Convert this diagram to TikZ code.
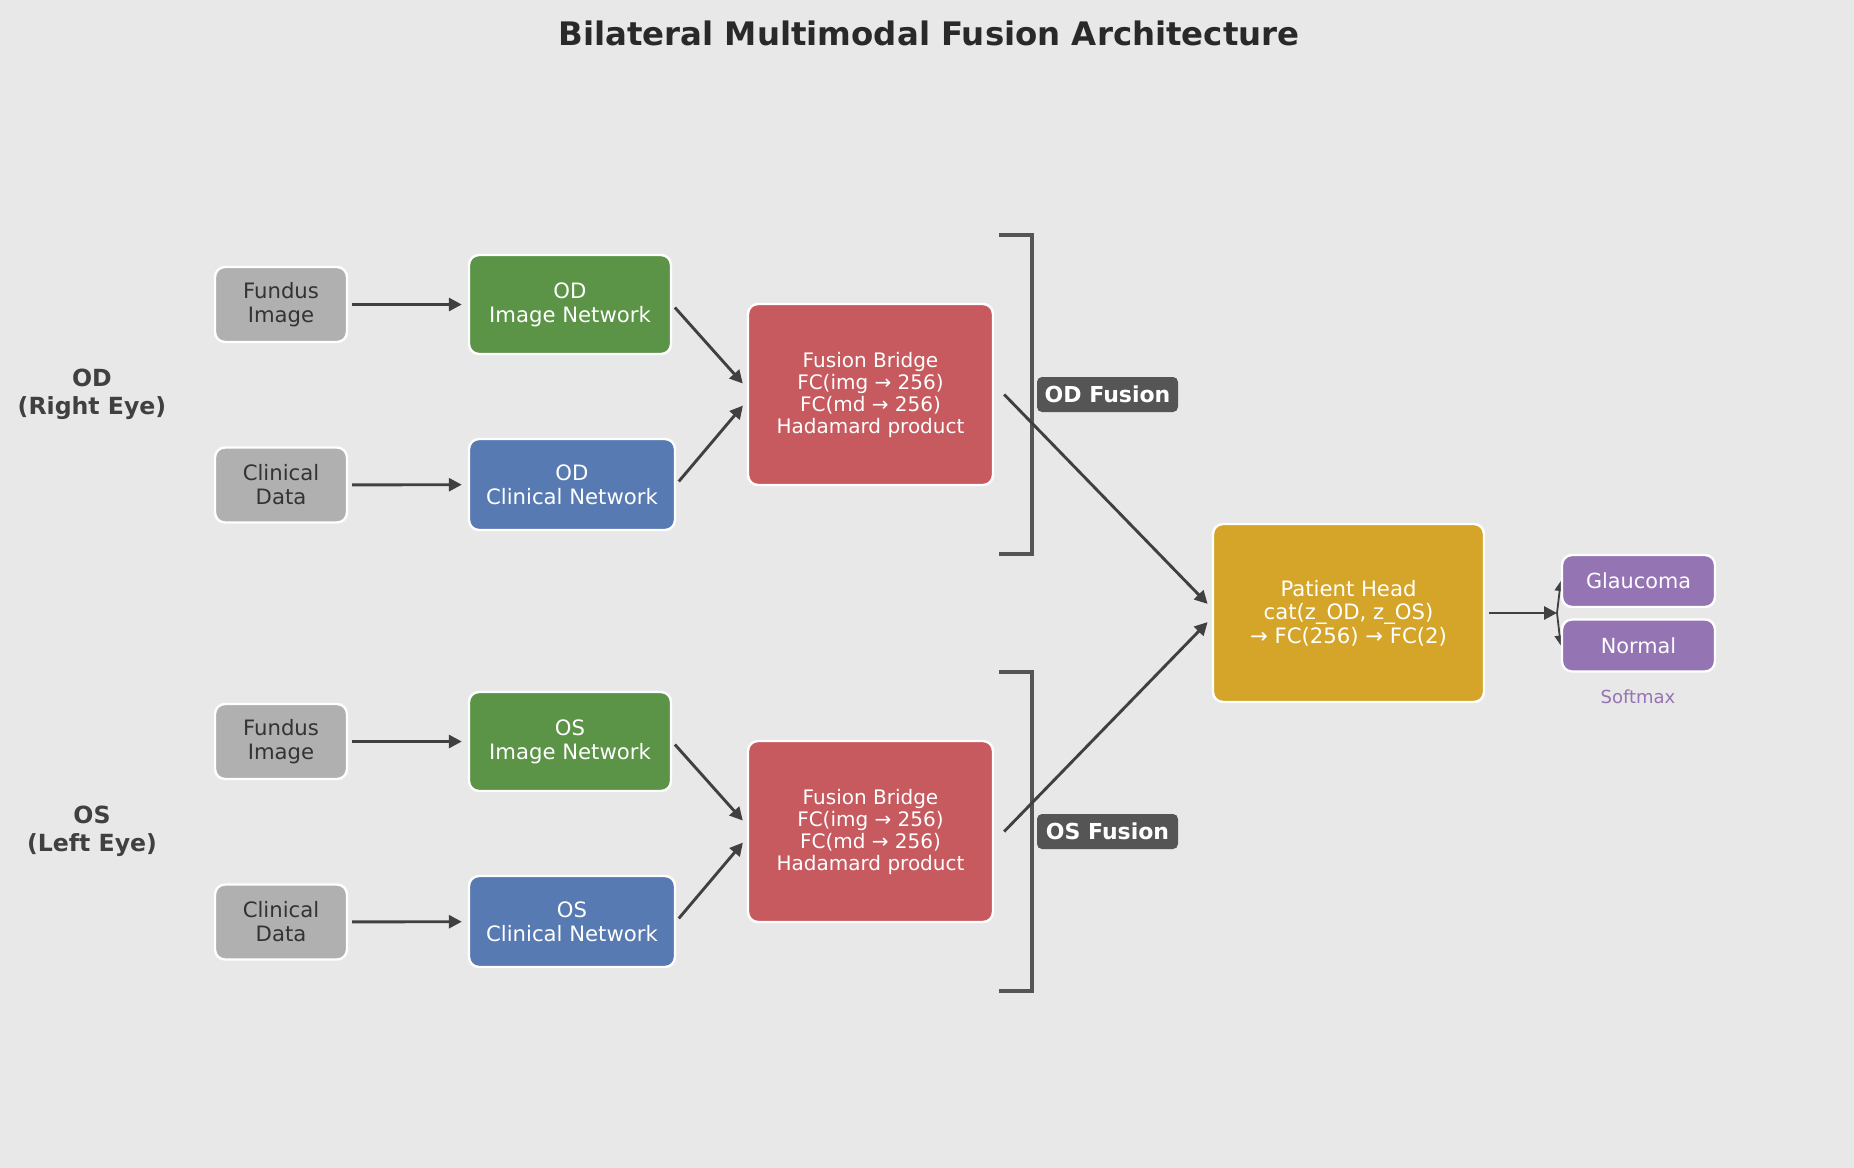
\documentclass[tikz,border=0pt]{standalone}
\usepackage{fontspec}
\setmainfont{DejaVu Sans}
\usetikzlibrary{arrows.meta}
\definecolor{bgcol}{HTML}{E8E8E8}
\definecolor{inputgray}{HTML}{B0B0B0}
\definecolor{inputtext}{HTML}{333333}
\definecolor{imggreen}{HTML}{5B9447}
\definecolor{clinblue}{HTML}{587AB2}
\definecolor{bridgered}{HTML}{C65A5F}
\definecolor{headgold}{HTML}{D4A528}
\definecolor{outpurple}{HTML}{9474B2}
\definecolor{tagdark}{HTML}{555555}
\definecolor{arrowdark}{HTML}{404040}
\pgfdeclarelayer{background}
\pgfsetlayers{background,main}
\tikzstyle{box}=[rectangle,rounded corners=5pt,draw=white,line width=1.2pt,align=center,inner sep=0pt]
\tikzstyle{inputbox}=[box,fill=inputgray,text=inputtext,minimum width=66pt,minimum height=37.5pt,font=\fontsize{10.6}{12}\selectfont]
\tikzstyle{imgnet}=[box,fill=imggreen,text=white,minimum width=101pt,minimum height=49.5pt,font=\fontsize{10.6}{12}\selectfont]
\tikzstyle{clinnet}=[box,fill=clinblue,text=white,minimum width=103pt,minimum height=45.5pt,font=\fontsize{10.6}{12}\selectfont]
\tikzstyle{bridge}=[box,fill=bridgered,text=white,minimum width=122.5pt,minimum height=90.5pt,font=\fontsize{10}{11}\selectfont]
\tikzstyle{headbox}=[box,fill=headgold,text=white,minimum width=135.5pt,minimum height=89pt,font=\fontsize{10.6}{11.8}\selectfont]
\tikzstyle{outbox}=[box,fill=outpurple,text=white,minimum width=76.5pt,minimum height=26pt,font=\fontsize{10.4}{12}\selectfont]
\tikzstyle{tagbox}=[rectangle,rounded corners=2.5pt,fill=tagdark,text=white,minimum width=70.5pt,minimum height=17.5pt,inner sep=0pt,font=\fontsize{11}{13}\selectfont\bfseries]
\tikzstyle{eyelabel}=[align=center,text=arrowdark,font=\fontsize{11.8}{14}\selectfont\bfseries]
\tikzstyle{arrow}=[draw=arrowdark,line width=1.45pt,-{Triangle[length=6.5pt,width=6.5pt]},shorten <=2pt,shorten >=3pt]
\tikzstyle{bracket}=[draw=tagdark,line width=1.6pt]

\begin{document}
\begin{tikzpicture}[x=0.5pt,y=-0.5pt]
    \useasboundingbox (0,0) rectangle (1854,1168);
    \begin{pgfonlayer}{background}
        \fill[bgcol] (0,0) rectangle (1854,1168);
    \end{pgfonlayer}
    \node[text=inputtext!80!black,font=\fontsize{16.2}{19}\selectfont\bfseries] (title) at (929,33) {Bilateral Multimodal Fusion Architecture};

    % right eye
    \node[eyelabel] (odlabel) at (92,394.5) {OD\\(Right Eye)};
    \node[inputbox] (odfundus) at (281,304.5) {Fundus\\Image};
    \node[inputbox] (odclin) at (281,485) {Clinical\\Data};
    \node[imgnet] (odimg) at (570,304.5) {OD\\Image Network};
    \node[clinnet] (odclinnet) at (572,484.5) {OD\\Clinical Network};
    \node[bridge] (odbridge) at (870.5,394.5) {Fusion Bridge\\FC(img → 256)\\FC(md → 256)\\Hadamard product};
    \node[tagbox] (odtag) at (1107.5,394.5) {OD Fusion};
    \draw[bracket] (999,235) -- (1032,235) -- (1032,554) -- (999,554);

    % left eye
    \node[eyelabel] (oslabel) at (92,831.5) {OS\\(Left Eye)};
    \node[inputbox] (osfundus) at (281,741.5) {Fundus\\Image};
    \node[inputbox] (osclin) at (281,922) {Clinical\\Data};
    \node[imgnet] (osimg) at (570,741.5) {OS\\Image Network};
    \node[clinnet] (osclinnet) at (572,921.5) {OS\\Clinical Network};
    \node[bridge] (osbridge) at (870.5,831.5) {Fusion Bridge\\FC(img → 256)\\FC(md → 256)\\Hadamard product};
    \node[tagbox] (ostag) at (1107.5,831.5) {OS Fusion};
    \draw[bracket] (999,672) -- (1032,672) -- (1032,991) -- (999,991);

    % patient level
    \node[headbox] (head) at (1348.5,613) {Patient Head\\cat(z\_OD, z\_OS)\\→ FC(256) → FC(2)};
    \node[outbox] (glaucoma) at (1638.5,581) {Glaucoma};
    \node[outbox] (normal) at (1638.5,645.5) {Normal};
    \node[text=outpurple,font=\fontsize{9}{11}\selectfont] (softmax) at (1638,697) {Softmax};
    \coordinate (split) at (1557,613);

    \foreach \from/\to in {odfundus/odimg,odclin/odclinnet,osfundus/osimg,osclin/osclinnet,odimg.east/odbridge.177,odclinnet.east/odbridge.183,osimg.east/osbridge.177,osclinnet.east/osbridge.183}
    \draw[arrow] (\from) -- (\to);

    \draw[arrow,shorten <=0pt] ([xshift=5pt]odbridge.east) -- (head.178);
    \draw[arrow,shorten <=0pt] ([xshift=5pt]osbridge.east) -- (head.182);
    \draw[arrow,shorten >=0pt] (head) -- (split);
    \begin{pgfonlayer}{background}
        \foreach \to in {glaucoma,normal}
        \draw[draw=arrowdark,line width=0.9pt,-{Triangle[length=5pt,width=5pt]}] (split) -- (\to.west);
    \end{pgfonlayer}
\end{tikzpicture}
\end{document}
